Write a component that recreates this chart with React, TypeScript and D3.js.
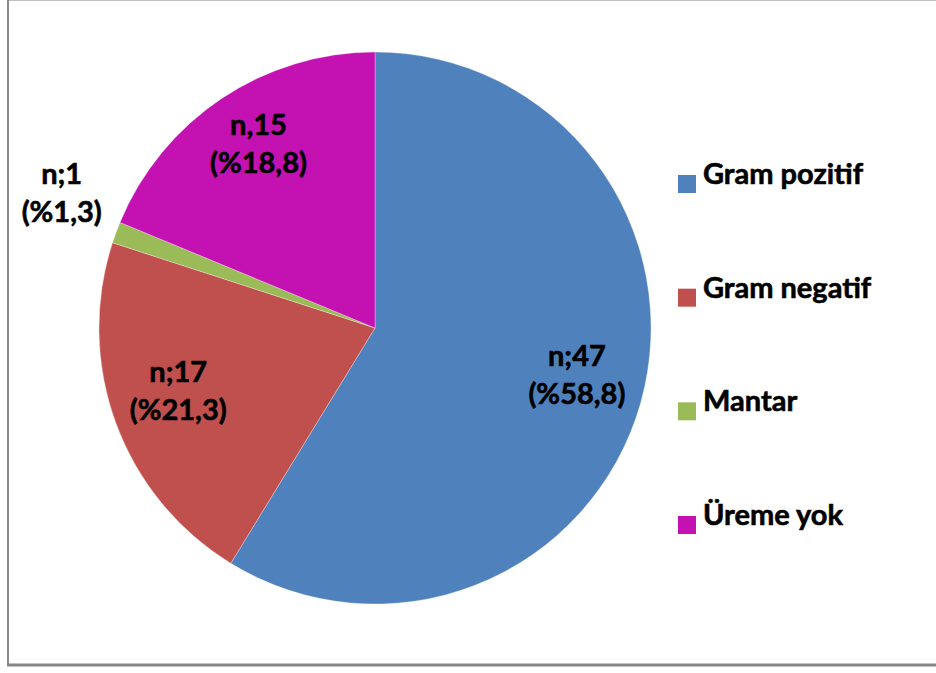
import React from "react";
import * as d3 from "d3";

const categories = ["Gram pozitif", "Gram negatif", "Mantar", "Üreme yok"];
const values = [47, 17, 1, 15];
const countLabels = ["n;47", "n;17", "n;1", "n,15"];
const percentLabels = ["(%58,8)", "(%21,3)", "(%1,3)", "(%18,8)"];
const colors = ["#4F81BD", "#C0504D", "#9BBB59", "#C411B2"];

const W = 936;
const H = 673;
const cx = 375;
const cy = 328;
const R = 276;
const FONT = "Lato, 'Open Sans', sans-serif";
const FS = 29;

export default function App() {
  const pie = d3.pie<number>().sort(null).value((d) => d);
  const arcs = pie(values);
  const arcGen = d3.arc<d3.PieArcDatum<number>>().innerRadius(0).outerRadius(R);
  const labelArc = d3.arc<d3.PieArcDatum<number>>().innerRadius(R * 0.76).outerRadius(R * 0.76);
  const outsideArc = d3.arc<d3.PieArcDatum<number>>().innerRadius(R * 1.21).outerRadius(R * 1.21);
  const legendY = d3.scalePoint<number>().domain(d3.range(categories.length)).range([184, 525]);

  return (
    <svg width={W} height={H} style={{ position: "absolute", left: 0, top: 0, background: "#fff" }}>
      <rect x={0} y={0} width={W} height={H} fill="#fff" />
      <line x1={8} x2={W} y1={0.5} y2={0.5} stroke="#c0c0c0" strokeWidth={1} />
      <line x1={8} x2={8} y1={0} y2={666} stroke="#8a8a8a" strokeWidth={2} />
      <line x1={7} x2={W} y1={665} y2={665} stroke="#858585" strokeWidth={3} />
      <g transform={`translate(${cx},${cy})`}>
        {arcs.map((a, i) => (
          <path key={i} d={arcGen(a) || ""} fill={colors[i]} stroke="#fff" strokeWidth={0.3} />
        ))}
        {arcs.map((a, i) => {
          const small = a.endAngle - a.startAngle < 0.2;
          const [x, y] = small ? outsideArc.centroid(a) : labelArc.centroid(a);
          return (
            <text key={i} x={x} y={y} textAnchor="middle" fontFamily={FONT} fontWeight="bold" fontSize={FS} fill="#000" stroke="#000" strokeWidth={0.6}>
              <tspan x={x} dy={small ? -28 : -19}>{countLabels[i]}</tspan>
              <tspan x={x} dy={38}>{percentLabels[i]}</tspan>
            </text>
          );
        })}
      </g>
      {categories.map((c, i) => (
        <g key={c} transform={`translate(678,${legendY(i)})`}>
          <rect x={0} y={-9} width={18} height={18} fill={colors[i]} />
          <text x={25} y={0} fontFamily={FONT} fontWeight="bold" fontSize={FS} fill="#000" stroke="#000" strokeWidth={0.6}>{c}</text>
        </g>
      ))}
    </svg>
  );
}
